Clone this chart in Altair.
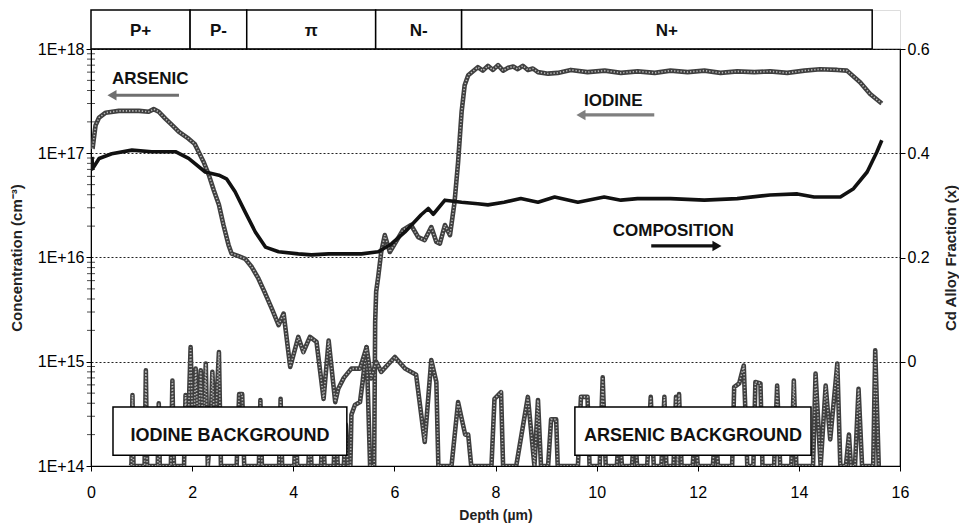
import altair as alt
import pandas as pd

FONT = "Liberation Sans"

# ---- top band (device regions) ----
REGION_LABELS = ["P+", "P-", "π", "N-", "N+"]
REGION_START = [0.0, 1.96, 3.08, 5.63, 7.33]
REGION_END = [1.96, 3.08, 5.63, 7.33, 15.45]

# ---- arsenic profile (cm^-3) incl. background ----
ARSENIC_DEPTH = [0.03, 0.09, 0.16, 0.29, 0.55, 0.95, 1.14, 1.24, 1.34, 1.47, 1.60, 1.74, 1.93, 2.05,
                 2.13, 2.23, 2.33, 2.43, 2.53, 2.62, 2.72, 2.78, 2.92, 3.05, 3.18, 3.31, 3.43, 3.58,
                 3.71, 3.81, 3.94, 4.10, 4.20, 4.33, 4.46, 4.60, 4.70, 4.83, 4.89, 5.00, 5.15, 5.32,
                 5.45, 5.54, 5.64, 5.74, 6.01, 6.21, 6.43, 6.60, 6.73, 6.83, 6.87,
                 7.10, 7.13, 7.26, 7.40, 7.46, 7.52, 7.92, 7.98, 8.11, 8.15, 8.41, 8.64, 8.77, 8.84,
                 8.90, 9.04, 9.10, 9.20, 9.23, 9.63, 9.69, 9.82, 9.86, 10.06, 10.12, 10.18, 10.40,
                 10.45, 10.50, 10.70, 10.75, 10.80, 11.00, 11.07, 11.13, 11.28, 11.34, 11.38, 11.52,
                 11.57, 11.60, 11.63, 11.68, 11.90, 11.95, 12.00, 12.30, 12.35, 12.40, 12.68, 12.72,
                 12.82, 12.91, 12.98, 13.10, 13.14, 13.24, 13.28, 13.51, 13.57, 13.63, 13.85, 13.90,
                 13.95, 14.28, 14.33, 14.43, 14.53, 14.62, 14.76, 14.82, 14.93, 14.99, 15.03, 15.11,
                 15.18, 15.25, 15.47, 15.51, 15.58]
ARSENIC_CONC = [1.1e17, 1.85e17, 2.2e17, 2.45e17, 2.55e17, 2.55e17, 2.5e17, 2.65e17, 2.5e17, 2.15e17,
                1.87e17, 1.6e17, 1.38e17, 1.23e17, 1.03e17, 8.2e16, 6.2e16, 4.4e16, 3.2e16, 2.05e16,
                1.32e16, 1.09e16, 1.03e16, 9.7e15, 8.1e15, 6.3e15, 4.7e15, 3.2e15, 2.25e15, 2.9e15,
                8.9e14, 1.73e15, 1.24e15, 1.73e15, 1.55e15, 4.4e14, 1.6e15, 4.1e14, 5.5e14, 7.0e14,
                8.6e14, 8.6e14, 1.38e15, 6.9e14, 1.0e15, 8.0e14, 1.11e15, 8.6e14, 7.5e14, 1.7e14,
                1.04e15, 6.4e14, 1e14,
                1e14, 1e14, 4.1e14, 2.0e14, 2.0e14, 1e14, 1e14, 4.4e14, 5.1e14, 1e14, 1e14, 4.6e14,
                1e14, 4.3e14, 1e14, 1e14, 2.8e14, 2.8e14, 1e14, 1e14, 4.6e14, 4.6e14, 1e14, 1e14,
                7.1e14, 1e14, 1e14, 2.5e14, 1e14, 1e14, 2.5e14, 1e14, 1e14, 4.6e14, 1e14, 1e14,
                4.6e14, 1e14, 1e14, 4.6e14, 1e14, 4.9e14, 1e14, 1e14, 2.5e14, 1e14, 1e14, 2.5e14,
                1e14, 1e14, 5.7e14, 6.2e14, 9.2e14, 1e14, 1e14, 6.4e14, 6.2e14, 1e14, 1e14, 5.9e14,
                1e14, 1e14, 6.6e14, 1e14, 1e14, 7.7e14, 1e14, 5.9e14, 1.8e14, 9.6e14, 1e14, 1e14,
                2.0e14, 1e14, 1e14, 5.5e14, 1e14, 1e14, 1.29e15, 1e14]

# ---- iodine profile (cm^-3) incl. background ----
IODINE_DEPTH = [0.75, 0.80, 0.82, 0.84, 1.06, 1.085, 1.11, 1.32, 1.34, 1.36, 1.58, 1.61, 1.64, 1.84,
                1.87, 1.91, 1.97, 2.02, 2.07, 2.12, 2.17, 2.22, 2.27, 2.31, 2.36, 2.40, 2.45, 2.53,
                2.57, 2.88, 2.93, 2.99, 3.03, 3.32, 3.35, 3.38, 3.72, 3.75, 3.78, 4.02, 4.05, 4.08,
                4.30, 4.33, 4.36, 4.55, 4.58, 4.62, 4.80, 4.84, 4.88, 5.00, 5.04, 5.08, 5.13, 5.15,
                5.22, 5.32, 5.37, 5.45, 5.52, 5.60, 5.62, 5.64, 5.68, 5.74, 5.81, 5.91, 6.01, 6.17,
                6.33, 6.47, 6.60, 6.73, 6.83, 6.90, 7.00, 7.10, 7.19, 7.26, 7.33, 7.39, 7.46,
                7.65, 7.75, 7.85, 7.95, 8.05, 8.15, 8.25, 8.35, 8.44, 8.54, 8.64, 8.74, 8.84, 9.04,
                9.23, 9.49, 9.82, 10.16, 10.48, 10.81, 11.15, 11.46, 11.80, 12.13, 12.45, 12.78,
                13.12, 13.43, 13.77, 14.11, 14.42, 14.76, 14.95, 15.21, 15.41, 15.64]
IODINE_CONC = [1e14, 1e14, 4.8e14, 1e14, 1e14, 8.3e14, 1e14, 1e14, 4.0e14, 1e14, 1e14, 6.6e14, 1e14,
               1e14, 4.8e14, 1.5e14, 1.38e15, 1.5e14, 8.6e14, 2e14, 8.3e14, 2e14, 9.6e14, 1e14, 2e14,
               8.0e14, 2e14, 1.24e15, 1e14, 1e14, 4.9e14, 4.9e14, 1e14, 1e14, 4.3e14, 1e14, 1e14,
               4.4e14, 1e14, 1e14, 2.5e14, 1e14, 1e14, 2.5e14, 1e14, 1e14, 3e14, 1e14, 1e14, 3e14,
               1e14, 1e14, 2.5e14, 1e14, 1e14, 3.1e14, 3.85e14, 4.1e14, 6.3e14, 1.38e15, 1e14, 1e14,
               2.4e15, 4.7e15, 6.5e15, 1.13e16, 1.64e16, 1.13e16, 1.36e16, 1.84e16, 2.05e16, 1.57e16,
               1.47e16, 1.96e16, 1.41e16, 1.36e16, 2.05e16, 1.64e16, 3.4e16, 8.2e16, 2.5e17, 4.5e17,
               5.6e17,
               6.7e17, 6.2e17, 6.9e17, 6.3e17, 7.0e17, 6.2e17, 6.6e17, 6.8e17, 6.4e17, 6.9e17, 6.3e17,
               6.5e17, 6.0e17, 5.8e17, 5.9e17, 6.3e17, 6.0e17, 6.2e17, 5.9e17, 6.1e17, 5.9e17, 6.2e17,
               6.0e17, 6.2e17, 5.9e17, 6.1e17, 6.0e17, 6.1e17, 5.9e17, 6.2e17, 6.4e17, 6.3e17, 6.2e17,
               4.8e17, 3.7e17, 3.0e17]

# ---- Cd alloy composition (x) ----
COMP_DEPTH = [0.02, 0.03, 0.16, 0.41, 0.81, 1.20, 1.67, 1.93, 2.26, 2.53, 2.68, 2.85, 3.05, 3.25,
              3.45, 3.71, 4.10, 4.36, 4.70, 5.02, 5.35, 5.68, 5.94, 6.21, 6.53, 6.67, 6.77, 7.00,
              7.33, 7.65, 7.85, 8.17, 8.50, 8.84, 9.17, 9.63, 10.15, 10.48, 10.81, 11.46, 12.13,
              12.78, 13.43, 13.97, 14.30, 14.82, 15.08, 15.35, 15.54, 15.64]
COMP_X = [0.393, 0.370, 0.390, 0.399, 0.406, 0.403, 0.403, 0.390, 0.364, 0.358, 0.351, 0.326, 0.287,
          0.249, 0.220, 0.211, 0.207, 0.205, 0.207, 0.207, 0.207, 0.211, 0.226, 0.249, 0.282, 0.294,
          0.283, 0.310, 0.306, 0.303, 0.301, 0.306, 0.313, 0.306, 0.316, 0.306, 0.316, 0.310, 0.313,
          0.313, 0.310, 0.313, 0.320, 0.322, 0.316, 0.316, 0.332, 0.364, 0.402, 0.425]

# ---- annotations ----
NOTE_TEXT = ["ARSENIC", "IODINE", "COMPOSITION"]
NOTE_DEPTH = [0.415, 9.75, 10.32]
NOTE_CONC = [5.2e17, 3.2e17, 1.8e16]

ARROW_FROM = [1.74, 11.14, 11.08]
ARROW_TO = [0.415, 9.69, 12.38]
ARROW_CONC = [3.6e17, 2.33e17, 1.29e16]
ARROW_COLOR = ["#6f6f6f", "#7f7f7f", "#111111"]
ARROW_HEAD = ["triangle-left", "triangle-left", "triangle-right"]

BOX_TEXT = ["IODINE BACKGROUND", "ARSENIC BACKGROUND"]
BOX_START = [0.435, 9.57]
BOX_END = [5.06, 14.24]
BOX_LOW = [1.27e14, 1.27e14]
BOX_HIGH = [3.68e14, 3.68e14]
BOX_TEXT_CONC = [1.94e14, 1.94e14]

DECADES = [1e14, 1e15, 1e16, 1e17, 1e18]
MINOR_TICKS = [m * d for d in [1e14, 1e15, 1e16, 1e17] for m in range(2, 10)]
DEPTH_TICKS = [0, 2, 4, 6, 8, 10, 12, 14, 16]
FRACTION_TICKS = [0, 0.2, 0.4, 0.6]

W, H, BAND_H = 809, 417, 39

xscale = alt.Scale(domain=[0, 16], nice=False, zero=False)
yscale = alt.Scale(type="log", domain=[1e14, 1e18], nice=False)

yaxis = alt.Axis(values=DECADES, labelExpr="'1E+' + round(log(datum.value)/LN10)",
                 grid=True, gridDash=[2, 2], gridColor="#222222", gridWidth=1,
                 domainColor="black", tickColor="black", labelColor="black", labelFlush=False,
                 labelFont=FONT, labelFontSize=16, titleFont=FONT, titleFontSize=15,
                 titleFontWeight="bold", titleColor="#222222", titlePadding=13)
xaxis = alt.Axis(values=DEPTH_TICKS, grid=False, domainColor="black", tickColor="black",
                 labelColor="black", labelFont=FONT, labelFontSize=16, labelPadding=13,
                 labelFlush=False,
                 titleFont=FONT, titleFontSize=14, titleFontWeight="bold", titleColor="#222222",
                 titlePadding=8)


def X(field):
    return alt.X(field, type="quantitative", scale=xscale, axis=xaxis, title="Depth (µm)")


def Y(field):
    return alt.Y(field, type="quantitative", scale=yscale, axis=yaxis,
                 title="Concentration (cm⁻³)")


# band chart
band_df = pd.DataFrame({"start": REGION_START, "end": REGION_END, "label": REGION_LABELS})
band_base = alt.Chart(band_df).transform_calculate(mid="(datum.start + datum.end) / 2")
band_rect = band_base.mark_rect(fill="white", stroke="black", strokeWidth=1.5).encode(
    x=alt.X("start:Q", scale=xscale, axis=None),
    x2="end:Q",
    y=alt.datum(0, scale=alt.Scale(domain=[0, 1]), axis=None),
    y2=alt.datum(1),
)
band_text = band_base.mark_text(font=FONT, fontSize=17, fontWeight="bold", color="#111111").encode(
    x=alt.X("mid:Q", scale=xscale, axis=None),
    y=alt.datum(0.45, scale=alt.Scale(domain=[0, 1]), axis=None),
    text="label:N",
)
band = alt.layer(band_rect, band_text).properties(width=W, height=BAND_H)

# main layers
ars_df = pd.DataFrame({"depth": ARSENIC_DEPTH, "conc": ARSENIC_CONC})
iod_df = pd.DataFrame({"depth": IODINE_DEPTH, "conc": IODINE_CONC})
comp_df = pd.DataFrame({"depth": COMP_DEPTH, "x": COMP_X})
minor_df = pd.DataFrame({"conc": MINOR_TICKS})


def beaded(df):
    outer = alt.Chart(df).mark_line(color="#3f3f3f", strokeWidth=4.6, clip=True,
                                    strokeJoin="round").encode(x=X("depth"), y=Y("conc"))
    inner = alt.Chart(df).mark_line(color="#b8b8b8", strokeWidth=1.6, strokeDash=[1.3, 1.9],
                                    clip=True).encode(x=X("depth"), y=Y("conc"))
    return [outer, inner]


minor = alt.Chart(minor_df).mark_tick(orient="horizontal", size=8, thickness=1, color="black").encode(
    x=alt.datum(0, type="quantitative", scale=xscale, axis=xaxis, title="Depth (µm)"),
    y=Y("conc"),
)

box_df = pd.DataFrame({"s": BOX_START, "e": BOX_END, "lo": BOX_LOW, "hi": BOX_HIGH,
                       "t": BOX_TEXT, "c": BOX_TEXT_CONC})
boxes = alt.Chart(box_df).mark_rect(fill="white", stroke="black", strokeWidth=1.5).encode(
    x=X("s"), x2="e:Q", y=Y("lo"), y2="hi:Q")
box_labels = alt.Chart(box_df).transform_calculate(m="(datum.s + datum.e) / 2").mark_text(
    font=FONT, fontSize=18, fontWeight="bold", color="#111111").encode(
    x=X("m"), y=Y("c"), text="t:N")

note_df = pd.DataFrame({"depth": NOTE_DEPTH, "conc": NOTE_CONC, "t": NOTE_TEXT})
notes = alt.Chart(note_df).mark_text(font=FONT, fontSize=17, fontWeight="bold", align="left",
                                     color="#111111").encode(x=X("depth"), y=Y("conc"), text="t:N")

arrow_df = pd.DataFrame({"a": ARROW_FROM, "b": ARROW_TO, "conc": ARROW_CONC,
                         "col": ARROW_COLOR, "shp": ARROW_HEAD})
shafts = alt.Chart(arrow_df).mark_rule(strokeWidth=3.2).encode(
    x=X("a"), x2="b:Q", y=Y("conc"), color=alt.Color("col:N", scale=None))
heads = alt.Chart(arrow_df).mark_point(filled=True, size=110, opacity=1).encode(
    x=X("b"), y=Y("conc"), color=alt.Color("col:N", scale=None),
    shape=alt.Shape("shp:N", scale=None))

left_group = alt.layer(minor, *beaded(iod_df), *beaded(ars_df), boxes, box_labels, notes,
                       shafts, heads)

comp = alt.Chart(comp_df).mark_line(color="#111111", strokeWidth=3.6, strokeJoin="round",
                                    clip=True).encode(
    x=X("depth"),
    y=alt.Y("x:Q", scale=alt.Scale(domain=[-0.2, 0.6], nice=False, zero=False),
            axis=alt.Axis(orient="right", values=FRACTION_TICKS, format="~g", grid=False,
                          domainColor="black", tickColor="black", labelColor="black",
                          labelFlush=False,
                          labelFont=FONT, labelFontSize=16, titleFont=FONT, titleFontSize=15,
                          titleFontWeight="bold", titleColor="#222222", titleAngle=270,
                          titleBaseline="top", titlePadding=14),
            title="Cd Alloy Fraction (x)"),
)

main = alt.layer(left_group, comp).resolve_scale(y="independent").properties(
    width=W, height=H, view=alt.ViewBackground(stroke="black", strokeWidth=1.2))

chart = alt.vconcat(band, main, spacing=0, bounds="flush").properties(
    padding=0).configure_view(stroke=None).configure(background="white")

chart.save("out.html", embed_options={"renderer": "svg", "actions": False})
